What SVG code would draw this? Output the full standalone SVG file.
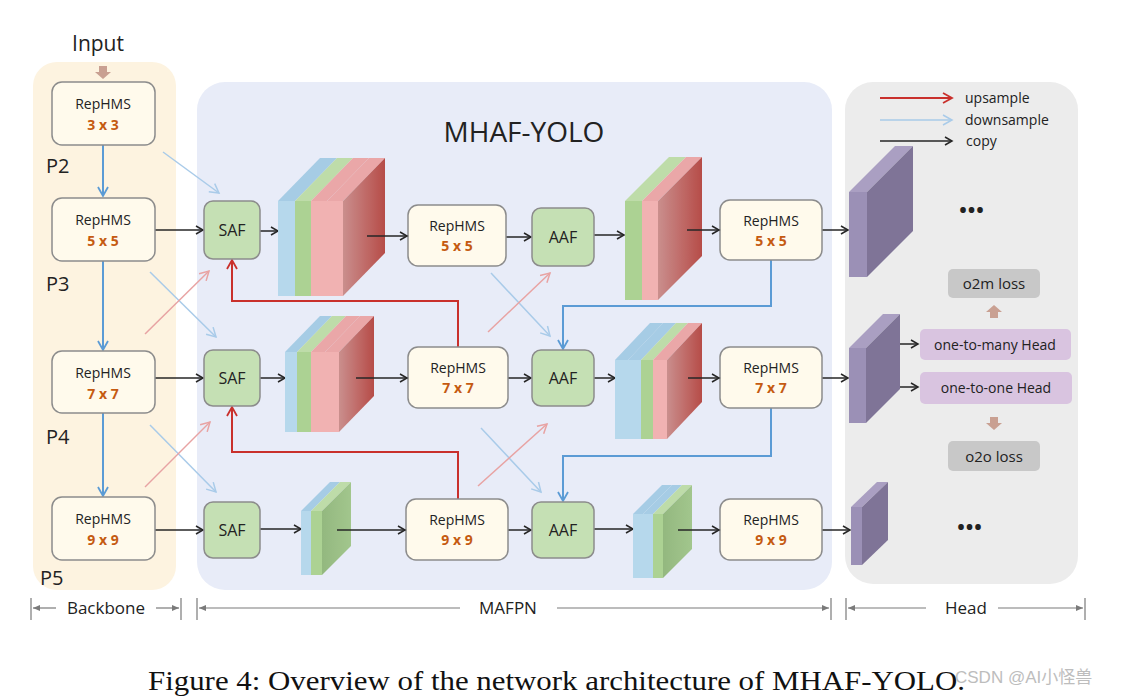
<svg xmlns="http://www.w3.org/2000/svg" width="1126" height="697" viewBox="0 0 1126 697">
<defs>
<style>
.t{font-family:"Open Sans","Noto Sans",sans-serif;fill:#222}
.nm{font-size:14px;text-anchor:middle}
.ks{font-size:14px;text-anchor:middle;font-weight:bold;fill:#c55a11}
.rep{fill:#fffaec;stroke:#8c8c8c;stroke-width:1.5}
.saf{fill:#c5e0b4;stroke:#8c8c8c;stroke-width:1.5}
.blk{stroke:#262626;stroke-width:1.5;fill:none}
.red{stroke:#c9302c;stroke-width:2;fill:none}
.blu{stroke:#5b9bd5;stroke-width:2;fill:none}
.lb{stroke:#a9cbe9;stroke-width:1.5;fill:none}
.lr{stroke:#e8a3a3;stroke-width:1.5;fill:none}
.dim{stroke:#7a7a7a;stroke-width:1.2;fill:none}
.bf{fill:#b4d7ec}.bt{fill:#a3cbe5}
.gf{fill:#a9d18e}.gt{fill:#bcdca5}
.pf{fill:#f2afaf}.pt{fill:#eba4a4}
.uf{fill:#9b90b6}.ut{fill:#aa9fc2}.us{fill:#7f7497}
</style>
<linearGradient id="rs" x1="0" y1="0" x2="1" y2="0"><stop offset="0" stop-color="#c98a88"/><stop offset="1" stop-color="#b4443f"/></linearGradient>
<linearGradient id="gs" x1="0" y1="0" x2="1" y2="0"><stop offset="0" stop-color="#8fb679"/><stop offset="1" stop-color="#9fc488"/></linearGradient>
<marker id="ak" markerWidth="10" markerHeight="10" refX="8" refY="5" orient="auto" markerUnits="userSpaceOnUse"><path d="M1,1 L8,5 L1,9" fill="none" stroke="#262626" stroke-width="1.5"/></marker>
<marker id="ar" markerWidth="12" markerHeight="12" refX="10" refY="6" orient="auto" markerUnits="userSpaceOnUse"><path d="M1,1 L10,6 L1,11" fill="none" stroke="#c9302c" stroke-width="1.8"/></marker>
<marker id="ab" markerWidth="12" markerHeight="12" refX="10" refY="6" orient="auto" markerUnits="userSpaceOnUse"><path d="M1,1 L10,6 L1,11" fill="none" stroke="#5b9bd5" stroke-width="1.8"/></marker>
<marker id="alb" markerWidth="12" markerHeight="12" refX="10" refY="6" orient="auto" markerUnits="userSpaceOnUse"><path d="M1,1 L10,6 L1,11" fill="none" stroke="#a9cbe9" stroke-width="1.5"/></marker>
<marker id="alr" markerWidth="12" markerHeight="12" refX="10" refY="6" orient="auto" markerUnits="userSpaceOnUse"><path d="M1,1 L10,6 L1,11" fill="none" stroke="#e8a3a3" stroke-width="1.5"/></marker>
<marker id="ad" markerWidth="8" markerHeight="8" refX="7" refY="4" orient="auto" markerUnits="userSpaceOnUse"><path d="M0,1 L7,4 L0,7 Z" fill="#7a7a7a"/></marker>
</defs>
<rect width="1126" height="697" fill="#ffffff"/>

<!-- panels -->
<g id="panels">
<rect x="33" y="62" width="143" height="528" rx="24" fill="#fdf3e0"/>
<rect x="197" y="82" width="635" height="508" rx="28" fill="#e8ecf8"/>
<rect x="845" y="82" width="233" height="502" rx="28" fill="#ececec"/>
<text class="t" x="524" y="142" font-size="28" text-anchor="middle">MHAF-YOLO</text>
<text class="t" x="98" y="51" font-size="21" text-anchor="middle">Input</text>
<text class="t" x="46" y="173" font-size="20">P2</text>
<text class="t" x="46" y="291" font-size="20">P3</text>
<text class="t" x="46" y="444" font-size="20">P4</text>
<text class="t" x="40" y="585" font-size="20">P5</text>
</g>

<!-- connectors -->
<g id="connectors">
<polygon points="99,66 107,66 107,72 111,72 103,79 95,72 99,72" fill="#c9a092"/>
<line class="blu" x1="103" y1="145" x2="103" y2="196" marker-end="url(#ab)"/>
<line class="blu" x1="103" y1="261" x2="103" y2="350" marker-end="url(#ab)"/>
<line class="blu" x1="103" y1="413" x2="103" y2="496" marker-end="url(#ab)"/>
<line class="lb" x1="163" y1="152" x2="219" y2="193" marker-end="url(#alb)"/>
<line class="lb" x1="150" y1="272" x2="216" y2="337" marker-end="url(#alb)"/>
<line class="lb" x1="150" y1="425" x2="216" y2="492" marker-end="url(#alb)"/>
<line class="lr" x1="145" y1="334" x2="209" y2="271" marker-end="url(#alr)"/>
<line class="lr" x1="145" y1="487" x2="210" y2="422" marker-end="url(#alr)"/>
<line class="lb" x1="491" y1="273" x2="550" y2="336" marker-end="url(#alb)"/>
<line class="lr" x1="488" y1="332" x2="550" y2="273" marker-end="url(#alr)"/>
<line class="lb" x1="481" y1="428" x2="541" y2="492" marker-end="url(#alb)"/>
<line class="lr" x1="478" y1="486" x2="547" y2="424" marker-end="url(#alr)"/>
<polyline class="red" points="458,347 458,301 232,301 232,260" marker-end="url(#ar)"/>
<polyline class="red" points="458,499 458,452 232,452 232,407" marker-end="url(#ar)"/>
<polyline class="blu" points="771,260 771,306 563,306 563,349" marker-end="url(#ab)"/>
<polyline class="blu" points="771,408 771,456 563,456 563,501" marker-end="url(#ab)"/>
<line class="blk" x1="155" y1="230" x2="203" y2="230" marker-end="url(#ak)"/>
<line class="blk" x1="155" y1="378" x2="203" y2="378" marker-end="url(#ak)"/>
<line class="blk" x1="155" y1="530" x2="203" y2="530" marker-end="url(#ak)"/>
<line class="blk" x1="260" y1="231" x2="278" y2="231" marker-end="url(#ak)"/>
<line class="blk" x1="260" y1="378" x2="285" y2="378" marker-end="url(#ak)"/>
<line class="blk" x1="260" y1="529" x2="301" y2="529" marker-end="url(#ak)"/>
<line class="blk" x1="506" y1="237" x2="531" y2="237" marker-end="url(#ak)"/>
<line class="blk" x1="508" y1="378" x2="531" y2="378" marker-end="url(#ak)"/>
<line class="blk" x1="508" y1="530" x2="531" y2="530" marker-end="url(#ak)"/>
<line class="blk" x1="594" y1="235" x2="624" y2="235" marker-end="url(#ak)"/>
<line class="blk" x1="594" y1="378" x2="615" y2="378" marker-end="url(#ak)"/>
<line class="blk" x1="594" y1="529" x2="633" y2="529" marker-end="url(#ak)"/>
<line class="blk" x1="822" y1="230" x2="848" y2="230" marker-end="url(#ak)"/>
<line class="blk" x1="822" y1="378" x2="848" y2="378" marker-end="url(#ak)"/>
<line class="blk" x1="822" y1="530" x2="850" y2="530" marker-end="url(#ak)"/>
<line class="blk" x1="890" y1="344" x2="918" y2="344" marker-end="url(#ak)"/>
<line class="blk" x1="890" y1="387" x2="918" y2="387" marker-end="url(#ak)"/>
<polygon points="990,318 998,318 998,312 1002,312 994,305 986,312 990,312" fill="#c9a092"/>
<polygon points="990,417 998,417 998,423 1002,423 994,430 986,423 990,423" fill="#c9a092"/>
</g>

<!-- backbone nodes -->
<g id="b3"><rect class="rep" x="52" y="82" width="103" height="63" rx="10"/><text class="t nm" x="103" y="109">RepHMS</text><text class="t ks" x="103" y="130">3 x 3</text></g>
<g id="b5"><rect class="rep" x="52" y="198" width="103" height="63" rx="10"/><text class="t nm" x="103" y="225">RepHMS</text><text class="t ks" x="103" y="246">5 x 5</text></g>
<g id="b7"><rect class="rep" x="52" y="351" width="103" height="62" rx="10"/><text class="t nm" x="103" y="378">RepHMS</text><text class="t ks" x="103" y="399">7 x 7</text></g>
<g id="b9"><rect class="rep" x="52" y="497" width="103" height="63" rx="10"/><text class="t nm" x="103" y="524">RepHMS</text><text class="t ks" x="103" y="545">9 x 9</text></g>

<!-- SAF / AAF -->
<g id="saf1"><rect class="saf" x="204" y="201" width="56" height="58" rx="9"/><text class="t" x="232" y="236" font-size="16" text-anchor="middle">SAF</text></g>
<g id="saf2"><rect class="saf" x="204" y="350" width="56" height="56" rx="9"/><text class="t" x="232" y="384" font-size="16" text-anchor="middle">SAF</text></g>
<g id="saf3"><rect class="saf" x="204" y="502" width="56" height="56" rx="9"/><text class="t" x="232" y="536" font-size="16" text-anchor="middle">SAF</text></g>
<g id="aaf1"><rect class="saf" x="532" y="208" width="62" height="58" rx="9"/><text class="t" x="563" y="243" font-size="16" text-anchor="middle">AAF</text></g>
<g id="aaf2"><rect class="saf" x="532" y="350" width="62" height="56" rx="9"/><text class="t" x="563" y="384" font-size="16" text-anchor="middle">AAF</text></g>
<g id="aaf3"><rect class="saf" x="532" y="502" width="62" height="56" rx="9"/><text class="t" x="563" y="536" font-size="16" text-anchor="middle">AAF</text></g>

<!-- middle RepHMS -->
<g id="m5"><rect class="rep" x="408" y="205" width="98" height="61" rx="10"/><text class="t nm" x="457" y="231">RepHMS</text><text class="t ks" x="457" y="251">5 x 5</text></g>
<g id="m7"><rect class="rep" x="408" y="347" width="100" height="61" rx="10"/><text class="t nm" x="458" y="373">RepHMS</text><text class="t ks" x="458" y="393">7 x 7</text></g>
<g id="m9"><rect class="rep" x="406" y="499" width="102" height="61" rx="10"/><text class="t nm" x="457" y="525">RepHMS</text><text class="t ks" x="457" y="545">9 x 9</text></g>
<g id="r5"><rect class="rep" x="720" y="200" width="102" height="60" rx="10"/><text class="t nm" x="771" y="226">RepHMS</text><text class="t ks" x="771" y="246">5 x 5</text></g>
<g id="r7"><rect class="rep" x="720" y="347" width="102" height="61" rx="10"/><text class="t nm" x="771" y="373">RepHMS</text><text class="t ks" x="771" y="393">7 x 7</text></g>
<g id="r9"><rect class="rep" x="720" y="499" width="102" height="61" rx="10"/><text class="t nm" x="771" y="525">RepHMS</text><text class="t ks" x="771" y="545">9 x 9</text></g>

<!-- feature stacks -->
<g id="stack11" opacity="0.95">
<rect class="bf" x="278" y="201" width="17" height="95"/><polygon class="bt" points="278,201 320,158 337,158 295,201"/>
<rect class="gf" x="295" y="201" width="16" height="95"/><polygon class="gt" points="295,201 337,158 353,158 311,201"/>
<rect class="pf" x="311" y="201" width="16" height="95"/><polygon class="pt" points="311,201 353,158 369,158 327,201"/>
<rect class="pf" x="327" y="201" width="16" height="95"/><polygon class="pt" points="327,201 369,158 385,158 343,201"/>
<polygon fill="url(#rs)" points="343,201 385,158 385,253 343,296"/>
</g>
<g id="stack12" opacity="0.95">
<rect class="gf" x="625" y="201" width="17" height="99"/><polygon class="gt" points="625,201 669,157 686,157 642,201"/>
<rect class="pf" x="642" y="201" width="16" height="99"/><polygon class="pt" points="642,201 686,157 702,157 658,201"/>
<polygon fill="url(#rs)" points="658,201 702,157 702,256 658,300"/>
</g>
<g id="stack21" opacity="0.95">
<rect class="bf" x="285" y="352" width="12" height="80"/><polygon class="bt" points="285,352 320,316 332,316 297,352"/>
<rect class="gf" x="297" y="352" width="14" height="80"/><polygon class="gt" points="297,352 332,316 346,316 311,352"/>
<rect class="pf" x="311" y="352" width="14" height="80"/><polygon class="pt" points="311,352 346,316 360,316 325,352"/>
<rect class="pf" x="325" y="352" width="14" height="80"/><polygon class="pt" points="325,352 360,316 374,316 339,352"/>
<polygon fill="url(#rs)" points="339,352 374,316 374,396 339,432"/>
</g>
<g id="stack22" opacity="0.95">
<rect class="bf" x="615" y="360" width="13" height="79"/><polygon class="bt" points="615,360 650,323 663,323 628,360"/>
<rect class="bf" x="628" y="360" width="13" height="79"/><polygon class="bt" points="628,360 663,323 676,323 641,360"/>
<rect class="gf" x="641" y="360" width="12" height="79"/><polygon class="gt" points="641,360 676,323 688,323 653,360"/>
<rect class="pf" x="653" y="360" width="14" height="79"/><polygon class="pt" points="653,360 688,323 702,323 667,360"/>
<polygon fill="url(#rs)" points="667,360 702,323 702,402 667,439"/>
</g>
<g id="stack31" opacity="0.95">
<rect class="bf" x="301" y="511" width="10" height="64"/><polygon class="bt" points="301,511 330,482 340,482 311,511"/>
<rect class="gf" x="311" y="511" width="11" height="64"/><polygon class="gt" points="311,511 340,482 351,482 322,511"/>
<polygon fill="url(#gs)" points="322,511 351,482 351,546 322,575"/>
</g>
<g id="stack32" opacity="0.95">
<rect class="bf" x="633" y="514" width="10" height="64"/><polygon class="bt" points="633,514 662,485 672,485 643,514"/>
<rect class="bf" x="643" y="514" width="10" height="64"/><polygon class="bt" points="643,514 672,485 682,485 653,514"/>
<rect class="gf" x="653" y="514" width="10" height="64"/><polygon class="gt" points="653,514 682,485 692,485 663,514"/>
<polygon fill="url(#gs)" points="663,514 692,485 692,549 663,578"/>
</g>
<g id="outs">
<line class="blk" x1="367" y1="236" x2="407" y2="236" marker-end="url(#ak)"/>
<line class="blk" x1="356" y1="378" x2="407" y2="378" marker-end="url(#ak)"/>
<line class="blk" x1="337" y1="530" x2="405" y2="530" marker-end="url(#ak)"/>
<line class="blk" x1="687" y1="230" x2="719" y2="230" marker-end="url(#ak)"/>
<line class="blk" x1="688" y1="378" x2="719" y2="378" marker-end="url(#ak)"/>
<line class="blk" x1="678" y1="530" x2="719" y2="530" marker-end="url(#ak)"/>
</g>

<!-- head blocks -->
<g id="h1"><rect class="uf" x="849" y="192" width="18" height="85"/><polygon class="ut" points="849,192 895,146 913,146 867,192"/><polygon class="us" points="867,192 913,146 913,231 867,277"/></g>
<g id="h2"><rect class="uf" x="849" y="348" width="17" height="75"/><polygon class="ut" points="849,348 883,314 900,314 866,348"/><polygon class="us" points="866,348 900,314 900,389 866,423"/></g>
<g id="h3"><rect class="uf" x="851" y="507" width="11" height="58"/><polygon class="ut" points="851,507 877,482 888,482 862,507"/><polygon class="us" points="862,507 888,482 888,540 862,565"/></g>

<g id="head">
<text class="t" x="972" y="217" font-size="20" text-anchor="middle" font-weight="bold" letter-spacing="1">•••</text>
<text class="t" x="970" y="534" font-size="20" text-anchor="middle" font-weight="bold" letter-spacing="1">•••</text>
<g id="o2m"><rect x="948" y="269" width="92" height="29" rx="5" fill="#c8c8c8"/><text class="t" x="994" y="289" font-size="15" text-anchor="middle">o2m loss</text></g>
<g id="otm"><rect x="920" y="329" width="151" height="31" rx="5" fill="#d9c4e0"/><text class="t" x="995" y="350" font-size="14" text-anchor="middle">one-to-many Head</text></g>
<g id="oto"><rect x="920" y="372" width="152" height="32" rx="5" fill="#d9c4e0"/><text class="t" x="996" y="393" font-size="14" text-anchor="middle">one-to-one Head</text></g>
<g id="o2o"><rect x="948" y="441" width="92" height="30" rx="5" fill="#c8c8c8"/><text class="t" x="994" y="462" font-size="15" text-anchor="middle">o2o loss</text></g>
</g>

<g id="legend">
<line class="red" x1="880" y1="98" x2="952" y2="98" marker-end="url(#ar)"/>
<line class="lb" x1="880" y1="120" x2="952" y2="120" marker-end="url(#alb)"/>
<line class="blk" x1="880" y1="141" x2="952" y2="141" marker-end="url(#ak)"/>
<text class="t" x="965" y="103" font-size="14">upsample</text>
<text class="t" x="965" y="125" font-size="14">downsample</text>
<text class="t" x="966" y="146" font-size="14">copy</text>
</g>

<g id="dims">
<line class="dim" x1="31" y1="598" x2="31" y2="620"/><line class="dim" x1="181" y1="598" x2="181" y2="620"/>
<line class="dim" x1="56" y1="608" x2="33" y2="608" marker-end="url(#ad)"/><line class="dim" x1="156" y1="608" x2="179" y2="608" marker-end="url(#ad)"/>
<text class="t" x="106" y="614" font-size="17" text-anchor="middle">Backbone</text>
<line class="dim" x1="197" y1="598" x2="197" y2="620"/><line class="dim" x1="831" y1="598" x2="831" y2="620"/>
<line class="dim" x1="460" y1="608" x2="199" y2="608" marker-end="url(#ad)"/><line class="dim" x1="557" y1="608" x2="829" y2="608" marker-end="url(#ad)"/>
<text class="t" x="508" y="614" font-size="17" text-anchor="middle">MAFPN</text>
<line class="dim" x1="846" y1="598" x2="846" y2="620"/><line class="dim" x1="1085" y1="598" x2="1085" y2="620"/>
<line class="dim" x1="926" y1="608" x2="848" y2="608" marker-end="url(#ad)"/><line class="dim" x1="998" y1="608" x2="1083" y2="608" marker-end="url(#ad)"/>
<text class="t" x="966" y="614" font-size="17" text-anchor="middle">Head</text>
</g>

<text x="148" y="690" font-family="'Liberation Serif',serif" font-size="27" fill="#111" textLength="817" lengthAdjust="spacingAndGlyphs">Figure 4: Overview of the network architecture of MHAF-YOLO.</text>
<text x="955" y="683" font-family="'Liberation Sans','Noto Sans CJK SC',sans-serif" font-size="17" fill="#bdbdbd">CSDN @AI小怪兽</text>
</svg>
